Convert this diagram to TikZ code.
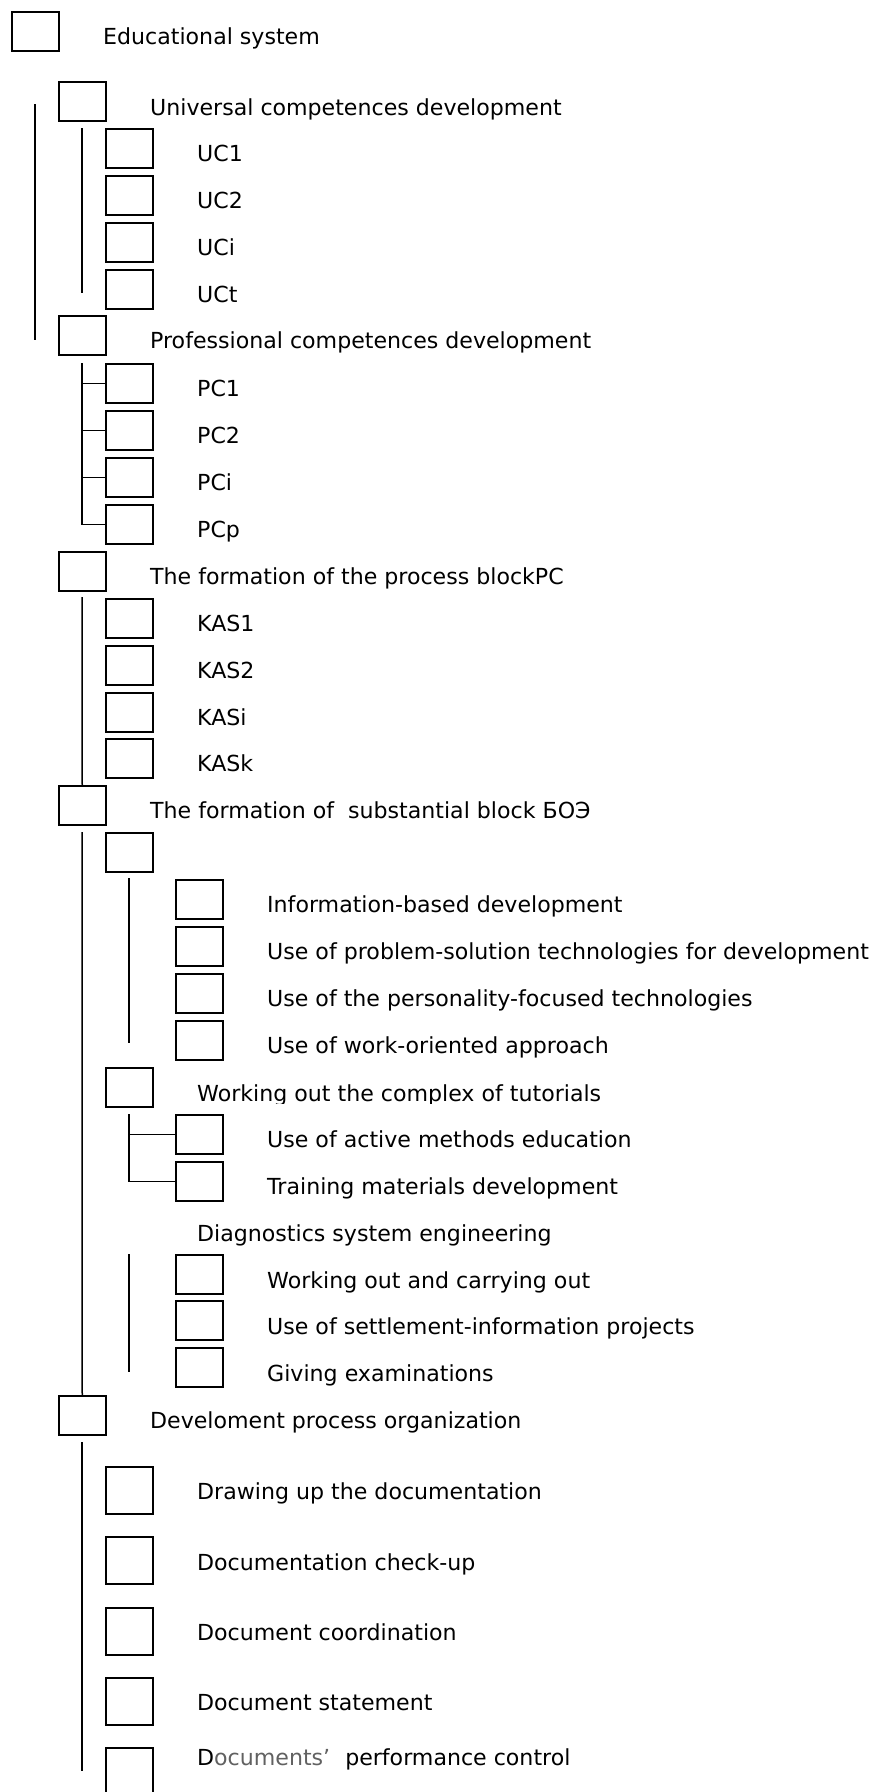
\documentclass[tikz,border=0pt]{standalone}
\usepackage{fontspec}
\newfontfamily\lbf{DejaVu Sans}
\begin{document}
\begin{tikzpicture}[x=1pt,y=-1pt,
  bx/.style={draw=black, line width=1.5pt, minimum width=47pt, minimum height=39pt, inner sep=0pt, anchor=north west},
  bxt/.style={bx, minimum height=47pt},
  lbl/.style={anchor=base west, inner sep=0pt, font=\lbf\fontsize{22.1}{26}\selectfont},
  ln/.style={line width=1.5pt}]
\useasboundingbox (0,0) rectangle (879,1792);
% level 0
\node[bx] (b0) at (11,11) {};
\node[lbl] (t0) at (103,44) {Educational system};
% level 1
\node[bx] (b1) at (58,81) {};
\node[lbl] (t1) at (150,115) {Universal competences development};
\node[bx] (b2) at (58,315) {};
\node[lbl] (t2) at (150,348) {Professional competences development};
\node[bx] (b3) at (58,551) {};
\node[lbl] (t3) at (150,584) {The formation of the process blockPC};
\node[bx] (b4) at (58,785) {};
\node[lbl] (t4) at (150,818) {The formation of \ substantial block БОЭ};
\node[bx] (b5) at (58,1395) {};
\node[lbl] (t5) at (150,1428) {Develoment process organization};
% UC
\node[bx] (uc1) at (105,128) {}; \node[lbl] (tuc1) at (197,161) {UC1};
\node[bx] (uc2) at (105,175) {}; \node[lbl] (tuc2) at (197,208) {UC2};
\node[bx] (uci) at (105,222) {}; \node[lbl] (tuci) at (197,255) {UCi};
\node[bx] (uct) at (105,269) {}; \node[lbl] (tuct) at (197,302) {UCt};
% PC
\node[bx] (pc1) at (105,363) {}; \node[lbl] (tpc1) at (197,396) {PC1};
\node[bx] (pc2) at (105,410) {}; \node[lbl] (tpc2) at (197,443) {PC2};
\node[bx] (pci) at (105,457) {}; \node[lbl] (tpci) at (197,490) {PCi};
\node[bx] (pcp) at (105,504) {}; \node[lbl] (tpcp) at (197,537) {PCp};
% KAS
\node[bx] (k1) at (105,598) {}; \node[lbl] (tk1) at (197,631) {KAS1};
\node[bx] (k2) at (105,645) {}; \node[lbl] (tk2) at (197,678) {KAS2};
\node[bx] (ki) at (105,692) {}; \node[lbl] (tki) at (197,725) {KASi};
\node[bx] (kk) at (105,738) {}; \node[lbl] (tkk) at (197,771) {KASk};
% substantial block
\node[bx] (s0) at (105,832) {};
\node[bx] (s1) at (175,879) {}; \node[lbl] (ts1) at (267,912) {Information-based development};
\node[bx] (s2) at (175,926) {}; \node[lbl] (ts2) at (267,959) {Use of problem-solution technologies for development};
\node[bx] (s3) at (175,973) {}; \node[lbl] (ts3) at (267,1006) {Use of the personality-focused technologies};
\node[bx] (s4) at (175,1020) {}; \node[lbl] (ts4) at (267,1053) {Use of work-oriented approach};
\node[bx] (w0) at (105,1067) {};
\begin{scope}
\clip (190,1060) rectangle (879,1103);
\node[lbl] (tw0) at (197,1101) {Working out the complex of tutorials};
\end{scope}
\node[bx] (w1) at (175,1114) {}; \node[lbl] (tw1) at (267,1147) {Use of active methods education};
\node[bx] (w2) at (175,1161) {}; \node[lbl] (tw2) at (267,1194) {Training materials development};
\node[lbl] (td0) at (197,1241) {Diagnostics system engineering};
\node[bx] (d1) at (175,1254) {}; \node[lbl] (td1) at (267,1288) {Working out and carrying out};
\node[bx] (d2) at (175,1300) {}; \node[lbl] (td2) at (267,1334) {Use of settlement-information projects};
\node[bx] (d3) at (175,1347) {}; \node[lbl] (td3) at (267,1381) {Giving examinations};
% development process
\node[bxt] (p1) at (105,1466) {}; \node[lbl] (tp1) at (197,1499) {Drawing up the documentation};
\node[bxt] (p2) at (105,1536) {}; \node[lbl] (tp2) at (197,1570) {Documentation check-up};
\node[bxt] (p3) at (105,1607) {}; \node[lbl] (tp3) at (197,1640) {Document coordination};
\node[bxt] (p4) at (105,1677) {}; \node[lbl] (tp4) at (197,1710) {Document statement};
\node[bxt] (p5) at (105,1747) {}; \node[lbl] (tp5) at (197,1765) {D{\color{black!62}ocuments’}\hspace{8pt} performance control};
% connector lines
\coordinate (a1) at (35,104); \coordinate (a2) at (35,340);
\draw[ln] (a1) -- (a2);
\coordinate (u1) at (82,128); \coordinate (u2) at (82,293);
\draw[ln] (u1) -- (u2);
\coordinate (pv) at (82,363);
\draw[ln] (pv) |- (pcp.west);
\draw[ln] (pc1.west) -- (pc1.west -| pv);
\draw[ln] (pc2.west) -- (pc2.west -| pv);
\draw[ln] (pci.west) -- (pci.west -| pv);
\coordinate (kv) at (82,597);
\draw[ln] (kv) -- (b4.north);
\coordinate (sv) at (82,832);
\draw[ln] (sv) -- (b5.north);
\coordinate (iv1) at (129,878); \coordinate (iv2) at (129,1043);
\draw[ln] (iv1) -- (iv2);
\coordinate (wv) at (129,1114);
\draw[ln] (wv) |- (w2.west);
\draw[ln] (w1.west) -- (w1.west -| wv);
\coordinate (dv1) at (129,1254); \coordinate (dv2) at (129,1372);
\draw[ln] (dv1) -- (dv2);
\coordinate (ov1) at (82,1442); \coordinate (ov2) at (82,1771);
\draw[ln] (ov1) -- (ov2);
\end{tikzpicture}
\end{document}
